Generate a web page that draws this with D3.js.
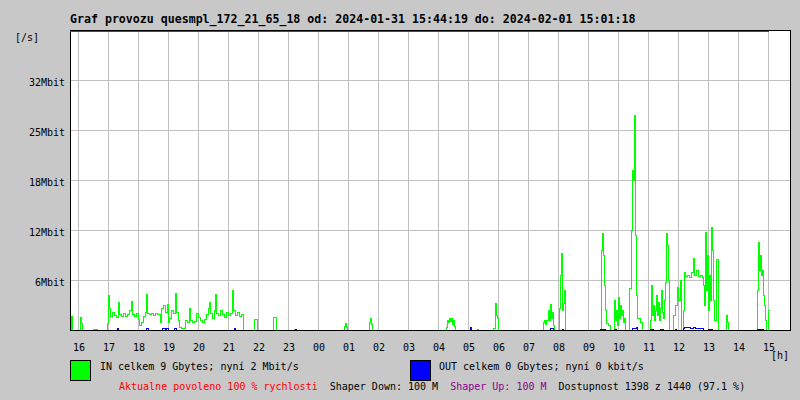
<!DOCTYPE html>
<html><head><meta charset="utf-8">
<script src="https://cdn.jsdelivr.net/npm/d3@7"></script>
<style>
body{margin:0;background:#c8c8c8}
svg{display:block}
text{font-family:"DejaVu Sans Mono",monospace;font-size:10px;fill:#000}
</style>
</head><body><svg id="c" width="800" height="400"></svg>
<script>
// ---------- data ----------
const titleText = "Graf provozu quesmpl_172_21_65_18 od: 2024-01-31 15:44:19 do: 2024-02-01 15:01:18";
const yUnitLabel = "[/s]";
const xUnitLabel = "[h]";
const yMax = 38.4;                         // Mbit/s at top of plot
const yTickValues = [6.4, 12.8, 19.2, 25.6, 32];
const yTickLabels = ["6Mbit", "12Mbit", "18Mbit", "25Mbit", "32Mbit"];
const startTime = new Date(2024, 0, 31, 15, 44, 0);
const spanMinutes = 1440;
const lastDataMinute = 1398;
const limitMbit = 100;                     // allowed speed (off scale, drawn at top)

// IN traffic (minutes after start, Mbit/s)
const inMinutes = [0,2,4,20,22,24,46,54,74,76,78,80,84,88,92,96,98,102,106,110,114,118,122,124,128,132,136,138,142,146,150,152,154,158,162,166,170,174,180,182,186,190,194,196,198,202,206,210,212,216,218,222,230,234,238,240,244,248,252,256,260,264,268,272,276,278,280,284,288,290,292,296,300,304,308,312,316,320,324,326,330,334,338,342,346,368,374,406,412,448,452,548,550,552,554,598,600,602,604,752,754,756,758,760,762,764,766,768,770,814,816,846,850,852,854,856,946,948,950,952,956,958,960,962,964,966,968,978,980,982,984,986,988,990,1062,1064,1066,1068,1070,1072,1076,1080,1088,1090,1092,1094,1096,1098,1100,1102,1104,1106,1108,1110,1118,1122,1124,1126,1128,1130,1132,1134,1140,1144,1160,1162,1164,1166,1168,1170,1172,1174,1176,1178,1180,1182,1184,1186,1188,1190,1192,1194,1196,1198,1206,1210,1214,1216,1220,1222,1226,1228,1230,1234,1238,1242,1246,1248,1252,1256,1260,1264,1266,1268,1270,1272,1274,1276,1278,1280,1282,1284,1286,1288,1292,1296,1312,1314,1316,1374,1376,1378,1380,1382,1384,1386,1388,1390,1392,1396,1398];
const inMbit    = [0,1.8,0,1.7,0.9,0,0.1,0,0.9,4.5,2.8,1.8,2.3,1.9,1.7,3.6,2.0,1.8,2.2,1.8,2.0,2.6,3.7,2.0,1.8,2.2,1.4,0.6,1.0,1.8,2.3,4.6,2.2,2.0,2.2,1.9,2.2,2.0,1.0,2.8,3.2,2.3,3.3,1.0,1.5,2.6,2.2,4.7,2.3,1.3,0.4,0.3,1.3,1.0,2.8,1.3,1.0,1.2,2.2,1.7,1.3,1.0,1.4,2.0,2.8,3.6,2.2,1.5,2.6,4.6,2.2,1.9,2.6,2.0,1.7,2.3,1.9,2.2,5.1,2.6,1.9,2.3,1.8,2.0,0,1.4,0,1.7,0,0.1,0,0.5,0.9,0.4,0,1.0,1.5,0.8,0,0.4,1.3,1.0,1.5,1.2,1.5,0.8,1.3,0.5,0,0.1,0,0.3,3.5,1.9,1.5,0,1.0,1.3,0.8,1.3,2.6,1.3,3.3,1.5,2.3,0.6,0,2.8,7.0,9.9,2.6,3.5,5.1,0,10.2,12.4,9.6,5.8,2.6,0.9,0.6,0,3.8,1.3,2.6,0.6,4.2,1.5,3.2,1.9,2.6,1.0,1.5,0,5.4,12.8,20.5,19.2,27.5,12.2,4.5,1.5,1.0,0,1.3,5.8,1.9,3.2,1.3,2.6,4.5,1.9,3.6,1.3,2.8,5.1,2.3,1.5,3.8,6.1,12.4,10.9,6.4,0,1.9,3.2,5.5,3.8,6.4,0,2.6,7.4,6.9,7.1,6.8,7.4,9.2,7.1,7.7,6.9,7.0,6.8,5.8,3.2,12.5,5.1,9.6,2.6,7.0,3.8,13.2,10.2,3.8,1.3,9.1,0,1.9,1.0,0,5.1,11.3,7.7,9.6,7.0,7.7,4.5,3.2,1.3,0,2.6,2.6];

// OUT traffic (minutes after start, Mbit/s)
const outMinutes = [0,94,96,152,156,184,190,192,196,208,212,328,330,450,452,800,802,960,966,984,986,1060,1070,1088,1092,1124,1132,1134,1160,1166,1180,1186,1210,1212,1226,1228,1240,1246,1250,1266,1276,1284,1374,1386,1398];
const outMbit    = [0,0.2,0,0.3,0,0.2,0,0.3,0,0.3,0,0.2,0,0.1,0,0.35,0,0.2,0,0.1,0,0.15,0,0.15,0,0.2,0.4,0,0.15,0,0.15,0,0.15,0,0.3,0.4,0.3,0.4,0.25,0,0.15,0,0.15,0,0];

const legendInText = "IN celkem 9 Gbytes; nyní 2 Mbit/s";
const legendOutText = "OUT celkem 0 Gbytes; nyní 0 kbit/s";
const infoTexts = ["Aktualne povoleno 100 % rychlosti", "Shaper Down: 100 M", "Shaper Up: 100 M", "Dostupnost 1398 z 1440 (97.1 %)"];

// ---------- drawing ----------
const svg = d3.select("#c");
const L = 70, R = 790, T = 30, B = 330;
const infoColors = ["#ff0000", "#000000", "#8b008b", "#000000"];

const x = d3.scaleTime()
  .domain([startTime, new Date(+startTime + spanMinutes * 60000)])
  .range([L, R]);
const xm = m => x(new Date(+startTime + m * 60000));
const y = d3.scaleLinear().domain([0, yMax]).range([B, T]);

svg.append("rect").attr("width", 800).attr("height", 400).attr("fill", "#c8c8c8");
svg.append("rect").attr("x", L).attr("y", T).attr("width", R - L).attr("height", B - T).attr("fill", "#fff");

const grid = svg.append("g").attr("stroke", "#c0c0c0").attr("shape-rendering", "crispEdges");
const hourTicks = x.ticks(d3.timeHour.every(1)).filter(d => x(d) > L && x(d) < R);
grid.selectAll("line.v").data(hourTicks).join("line")
  .attr("x1", d => Math.round(x(d)) + 0.5).attr("x2", d => Math.round(x(d)) + 0.5)
  .attr("y1", T).attr("y2", B);
grid.selectAll("line.h").data(yTickValues).join("line")
  .attr("x1", L).attr("x2", R)
  .attr("y1", d => Math.round(y(d)) + 0.5).attr("y2", d => Math.round(y(d)) + 0.5);

// series
function series(mins, vals, color) {
  const pts = mins.map((m, i) => [m, vals[i]]);
  const line = d3.line().curve(d3.curveStepAfter)
    .x(d => Math.round(xm(d[0])) + 0.5)
    .y(d => Math.round(y(d[1])) + 0.5);
  svg.append("path").attr("d", line(pts)).attr("fill", "none")
    .attr("stroke", color).attr("stroke-width", 1).attr("shape-rendering", "crispEdges");
}
series(inMinutes, inMbit, "#00ff00");
series(outMinutes, outMbit, "#0000ff");

// frame
svg.append("rect").attr("x", L + 0.5).attr("y", T + 0.5).attr("width", R - L).attr("height", B - T)
  .attr("fill", "none").attr("stroke", "#000").attr("shape-rendering", "crispEdges");

// limit line (off scale -> top row)
const limY = y(Math.min(limitMbit, yMax)) + 1.5;
svg.append("line").attr("x1", xm(0)).attr("x2", xm(lastDataMinute))
  .attr("y1", limY).attr("y2", limY).attr("stroke", "#ff0000").attr("shape-rendering", "crispEdges");

// axis labels
svg.append("g").selectAll("text").data(yTickValues).join("text")
  .attr("x", 65).attr("y", d => Math.round(y(d)) + 6).attr("text-anchor", "end")
  .text((d, i) => yTickLabels[i]);
svg.append("g").selectAll("text").data(hourTicks).join("text")
  .attr("x", d => Math.round(x(d)) + 1).attr("y", 351).attr("text-anchor", "middle")
  .text(d3.timeFormat("%H"));
svg.append("text").attr("x", 15).attr("y", 41).text(yUnitLabel);
svg.append("text").attr("x", 771).attr("y", 359).text(xUnitLabel);

// title
svg.append("text").attr("x", 70).attr("y", 23)
  .style("font-size", "11.6px").style("font-weight", "bold").text(titleText);

// legend
svg.append("rect").attr("x", 70.5).attr("y", 360.5).attr("width", 20).attr("height", 20)
  .attr("fill", "#00ff00").attr("stroke", "#000");
svg.append("text").attr("x", 100).attr("y", 370).text(legendInText);
svg.append("rect").attr("x", 410.5).attr("y", 360.5).attr("width", 20).attr("height", 20)
  .attr("fill", "#0000ff").attr("stroke", "#000");
svg.append("text").attr("x", 439).attr("y", 370).text(legendOutText);

const info = svg.append("text").attr("x", 119).attr("y", 390).style("white-space", "pre");
infoTexts.forEach((t, i) => {
  info.append("tspan").style("fill", infoColors[i]).text((i ? "  " : "") + t);
});
</script>
</body></html>
